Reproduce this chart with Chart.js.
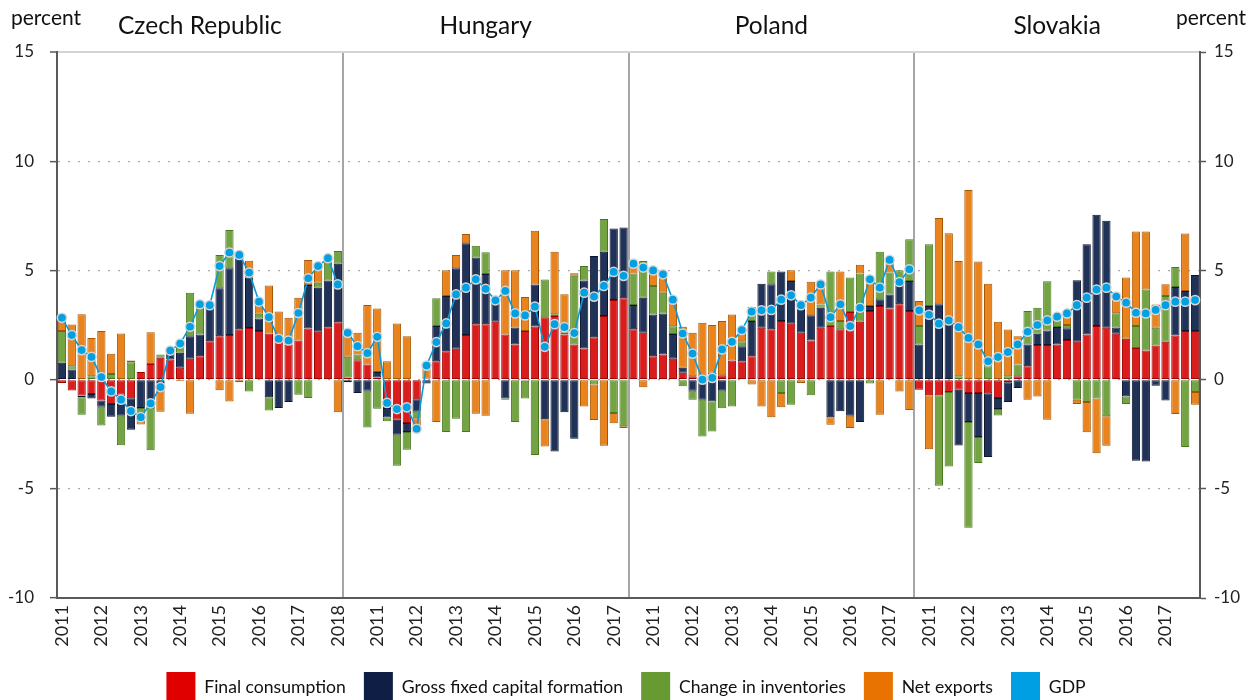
<!DOCTYPE html>
<html>
<head>
<meta charset="utf-8">
<title>Contributions to GDP growth</title>
<script src="https://cdn.jsdelivr.net/npm/chart.js@4.4.0/dist/chart.umd.min.js"></script>
<style>
    html, body { margin: 0; padding: 0; background: #fff; overflow: hidden; }
    #wrap { width: 1252px; height: 712px; }
</style>
</head>
<body>
<div id="wrap"><canvas id="growthChart" width="1252" height="712"></canvas></div>
<script>
// countries and years (each country: 2011Q1 - 2018Q1)
const countries = ['Czech Republic', 'Hungary', 'Poland', 'Slovakia'];
const years = ['2011', '2012', '2013', '2014', '2015', '2016', '2017', '2018'];
const quartersPerCountry = 29;

// Czech Republic
const fcCZ = [-0.15, -0.50, -0.73, -0.66, -0.96, -1.12, -0.69, -0.85, 0.35, 0.72, 1.00, 0.92, 0.54, 0.96, 1.07, 1.76, 1.99, 2.04, 2.30, 2.36, 2.22, 2.11, 1.82, 1.61, 1.79, 2.34, 2.19, 2.40, 2.63];
const gfcfCZ = [0.77, 0.46, -0.08, -0.21, -0.28, -0.58, -0.96, -1.45, -1.30, -1.30, -0.15, 0.41, 0.69, 1.03, 1.00, 1.60, 2.19, 3.06, 3.50, 2.31, 0.58, -0.81, -1.30, -1.03, 0.00, 1.99, 2.02, 2.14, 2.68];
const invCZ = [1.45, 0.15, -0.80, 0.15, -0.86, 0.26, -1.36, 0.80, -0.58, -1.93, 0.15, 0.00, 0.50, 1.99, 1.40, 0.00, 1.53, 1.75, 0.00, -0.54, 0.21, -0.61, 0.20, 0.00, -0.69, -0.84, 0.23, 1.01, 0.58];
const nxCZ = [0.78, 1.91, 2.99, 1.76, 2.22, 0.92, 2.11, 0.08, -0.18, 1.45, -1.32, 0.00, -0.08, -1.56, 0.00, 0.00, -0.49, -1.00, -0.12, 0.77, 0.58, 2.20, 1.10, 1.22, 1.96, 1.15, 0.76, 0.00, -1.49];
const gdpCZ = [2.83, 2.04, 1.35, 1.04, 0.12, -0.54, -0.92, -1.44, -1.72, -1.09, -0.34, 1.33, 1.65, 2.42, 3.45, 3.41, 5.20, 5.82, 5.71, 4.90, 3.57, 2.86, 1.87, 1.79, 3.05, 4.64, 5.20, 5.56, 4.36];

// Hungary
const fcHU = [0.10, 0.89, 0.69, 0.10, -1.30, -1.84, -1.99, -0.90, 0.05, 0.84, 1.30, 1.41, 2.04, 2.53, 2.53, 2.65, 2.07, 1.61, 2.22, 2.43, 2.86, 2.91, 2.07, 1.61, 1.42, 1.94, 2.91, 3.64, 3.72];
const gfcfHU = [-0.12, -0.61, -0.51, 0.25, -0.43, -0.69, -0.41, -0.57, -0.18, 1.61, 2.53, 3.69, 4.20, 3.06, 2.30, 0.95, -0.87, 0.77, -0.05, 1.93, -1.82, -3.29, -1.49, -2.71, 3.12, 3.72, 2.94, 3.28, 3.25];
const invHU = [0.95, 0.26, -1.68, -1.33, -0.18, -1.41, -0.81, -0.30, 0.00, 1.27, -2.40, -1.79, -2.40, 0.54, 1.00, 0.00, -0.05, -1.94, -0.81, -3.45, 1.72, 0.08, 0.08, 3.14, 0.66, -0.23, 1.50, -1.53, -2.14];
const nxHU = [1.20, 1.00, 2.73, 2.91, 0.84, 2.57, 1.99, -0.44, 0.77, -1.94, 1.18, 0.61, 0.43, -1.56, -1.65, 0.00, 2.94, 2.63, 1.56, 2.45, -1.24, 2.86, 1.76, 0.12, -1.23, -1.62, -3.03, -0.47, -0.08];
const gdpHU = [2.14, 1.53, 1.21, 1.96, -1.07, -1.35, -1.27, -2.25, 0.64, 1.72, 2.57, 3.90, 4.21, 4.59, 4.15, 3.63, 4.06, 3.03, 2.94, 3.34, 1.50, 2.54, 2.40, 2.13, 3.98, 3.80, 4.29, 4.93, 4.75];

// Poland
const fcPL = [2.30, 2.14, 1.07, 1.15, 0.96, 0.31, 0.15, 0.00, 0.31, 0.20, 0.87, 0.84, 1.07, 2.37, 2.30, 2.68, 2.56, 2.14, 1.79, 2.37, 2.45, 2.30, 3.09, 2.65, 3.14, 3.37, 3.26, 3.45, 3.14];
const gfcfPL = [1.12, 1.61, 1.91, 1.88, 1.13, 0.23, -0.51, -0.92, -1.00, -0.51, 0.00, 0.69, 1.61, 2.02, 2.07, 2.27, 1.96, 1.40, 1.16, 0.92, -1.72, -1.45, -1.65, -1.94, 0.23, 0.31, 0.64, 1.07, 1.38];
const invPL = [1.44, 1.68, 1.30, 0.95, 0.35, -0.31, -0.41, -1.68, -1.38, -0.80, -1.23, 0.23, 0.64, 0.00, 0.58, -0.61, -1.15, 0.00, -0.72, 0.15, 2.50, 0.38, 1.58, 2.21, -0.18, 2.17, 1.00, 0.49, 1.91];
const nxPL = [0.46, -0.35, 0.77, 0.84, 1.22, 1.88, 1.99, 2.60, 2.19, 2.48, 2.11, 0.54, -0.23, -1.23, -1.72, -0.66, 0.49, -0.15, 1.53, 0.92, -0.35, 2.27, -0.57, 0.40, 1.38, -1.61, 0.50, -0.54, -1.39];
const gdpPL = [5.31, 5.13, 5.00, 4.82, 3.66, 2.11, 1.19, 0.00, 0.08, 1.38, 1.73, 2.27, 3.11, 3.17, 3.19, 3.66, 3.86, 3.41, 3.75, 4.36, 2.86, 3.45, 2.45, 3.29, 4.59, 4.21, 5.48, 4.47, 5.05];

// Slovakia
const fcSK = [-0.46, -0.72, -0.72, -0.57, -0.46, -0.61, -0.61, -0.63, -0.84, -0.12, 0.15, 0.61, 1.58, 1.58, 1.61, 1.81, 1.73, 2.07, 2.45, 2.37, 2.10, 1.87, 1.45, 1.33, 1.56, 1.73, 2.02, 2.22, 2.22];
const gfcfSK = [1.61, 3.37, 3.45, 2.60, -2.56, -1.33, -2.02, -2.91, -0.51, -0.90, -0.38, 1.00, 0.52, 0.67, 0.80, 0.54, 2.82, 4.13, 5.10, 4.90, 0.28, -0.77, -3.72, -3.75, -0.28, -0.96, 2.22, 1.84, 2.57];
const invSK = [0.84, 2.83, -4.14, -3.41, 0.15, -4.84, -1.19, 0.61, -0.29, 0.15, 0.54, 1.53, 1.19, 2.25, 0.45, 0.15, -0.92, -1.03, -0.87, -1.68, 0.66, -0.35, 1.00, 2.80, 0.81, 2.10, 0.92, -3.09, -0.57];
const nxSK = [1.15, -2.47, 3.95, 4.10, 5.28, 8.68, 5.41, 3.78, 2.65, 2.14, 1.30, -0.92, -0.77, -1.84, 0.00, 0.49, -0.20, -1.38, -2.50, -1.35, 0.72, 2.80, 4.33, 2.65, 1.07, 0.54, -1.58, 2.63, -0.58];
const gdpSK = [3.17, 2.97, 2.56, 2.71, 2.40, 1.91, 1.61, 0.84, 1.03, 1.26, 1.61, 2.19, 2.50, 2.71, 2.88, 3.03, 3.41, 3.75, 4.12, 4.21, 3.80, 3.52, 3.06, 3.03, 3.19, 3.41, 3.57, 3.57, 3.64];

const finalConsumption = fcCZ.concat(fcHU, fcPL, fcSK);
const grossFixedCapital = gfcfCZ.concat(gfcfHU, gfcfPL, gfcfSK);
const inventories = invCZ.concat(invHU, invPL, invSK);
const netExports = nxCZ.concat(nxHU, nxPL, nxSK);
const gdp = gdpCZ.concat(gdpHU, gdpPL, gdpSK);

// one category per quarter; the axis prints the year of every 4th category
var categories = [];
var categoryYears = [];
countries.forEach(function (country) {
    for (var q = 0; q < quartersPerCountry; q++) {
        var year = years[Math.floor(q / 4)];
        categories.push(country + ' ' + year + 'Q' + (q % 4 + 1));
        categoryYears.push(year);
    }
});

var legendColors = ['#E00000', '#0E1E45', '#679A32', '#E87300', '#009FE3'];

// "percent" unit labels and country names above the plot
var headerText = {
    id: 'headerText',
    afterDraw: function (chart) {
        var ctx = chart.ctx;
        var xs = chart.scales.x;
        ctx.save();
        ctx.fillStyle = '#111';
        ctx.textBaseline = 'middle';
        ctx.font = '21px Lato, "Open Sans", sans-serif';
        ctx.textAlign = 'left';
        ctx.fillText('percent', 11, 18);
        ctx.textAlign = 'right';
        ctx.fillText('percent', 1246, 18);
        ctx.font = '24.5px Lato, "Open Sans", sans-serif';
        ctx.textAlign = 'center';
        countries.forEach(function (country, c) {
            var first = xs.getPixelForValue(c * quartersPerCountry);
            var last = xs.getPixelForValue(c * quartersPerCountry + quartersPerCountry - 1);
            ctx.fillText(country, (first + last) / 2, 26);
        });
        ctx.restore();
    }
};

function barSet(label, data, fill, border) {
    return {
        type: 'bar',
        label: label,
        data: data,
        backgroundColor: fill,
        borderColor: border,
        borderWidth: 1,
        borderSkipped: false,
        barPercentage: 0.84,
        categoryPercentage: 1,
        stack: 'parts',
        order: 1
    };
}

Chart.defaults.font.family = 'Lato, "Open Sans", sans-serif';
Chart.defaults.color = '#222';

var ctx = document.getElementById('growthChart');
new Chart(ctx, {
    type: 'bar',
    data: {
        labels: categories,
        datasets: [
            barSet('Final consumption', finalConsumption, '#DA1C1C', '#9E0000'),
            barSet('Gross fixed capital formation', grossFixedCapital, '#203258', '#0A1530'),
            barSet('Change in inventories', inventories, '#73A342', '#4A7820'),
            barSet('Net exports', netExports, '#E9831E', '#A45600'),
            {
                type: 'line',
                label: 'GDP',
                data: gdp,
                borderColor: '#0B9AD8',
                backgroundColor: '#00A0E2',
                borderWidth: 1.6,
                pointRadius: 4.6,
                pointBackgroundColor: '#00A0E2',
                pointBorderColor: '#D6D6D6',
                pointBorderWidth: 1.5,
                tension: 0,
                stack: 'gdp',
                order: 0,
                segment: {
                    // no line between two countries
                    borderColor: function (s) {
                        return s.p1DataIndex % quartersPerCountry === 0 ? 'rgba(0,0,0,0)' : '#0B9AD8';
                    }
                }
            }
        ]
    },
    options: {
        responsive: false,
        animation: false,
        layout: {
            padding: { top: 52, left: 0, right: 0, bottom: 0 }
        },
        plugins: {
            tooltip: { enabled: false },
            legend: {
                position: 'bottom',
                labels: {
                    boxWidth: 29,
                    boxHeight: 30,
                    padding: 18,
                    color: '#111',
                    font: { size: 17.6 },
                    sort: function (a, b) { return a.datasetIndex - b.datasetIndex; },
                    generateLabels: function (chart) {
                        var items = Chart.defaults.plugins.legend.labels.generateLabels(chart);
                        items.forEach(function (item) {
                            item.fillStyle = legendColors[item.datasetIndex];
                            item.strokeStyle = legendColors[item.datasetIndex];
                            item.lineWidth = 0;
                        });
                        return items;
                    }
                }
            }
        },
        scales: {
            x: {
                stacked: true,
                grid: {
                    offset: true,
                    drawTicks: false,
                    lineWidth: 2,
                    color: function (c) {
                        return (c.index === 29 || c.index === 58 || c.index === 87) ? '#A6A6A6' : 'rgba(0,0,0,0)';
                    }
                },
                border: { color: '#595959', width: 2 },
                ticks: {
                    autoSkip: false,
                    minRotation: 90,
                    maxRotation: 90,
                    padding: 7,
                    font: { size: 18 },
                    callback: function (value, index) {
                        return index % 4 === 0 ? categoryYears[index] : '';
                    }
                },
                afterFit: function (s) { s.height = 56; }
            },
            y: {
                stacked: true,
                position: 'left',
                min: -10,
                max: 15,
                ticks: { stepSize: 5, padding: 16, font: { size: 17 } },
                grid: {
                    tickLength: 7,
                    tickColor: '#595959',
                    tickWidth: 1.5,
                    color: function (c) {
                        if (c.tick.value === 15) return '#D4D4D4';
                        if (c.tick.value === -10) return 'rgba(0,0,0,0)';
                        return '#A9A9A9';
                    },
                    lineWidth: function (c) {
                        return c.tick.value === 15 ? 2 : 1.3;
                    }
                },
                border: {
                    color: '#595959',
                    width: 2,
                    dash: function (c) {
                        return (c.tick && c.tick.value !== 15) ? [2, 8] : [];
                    }
                },
                afterFit: function (s) { s.width = 57; }
            },
            y2: {
                position: 'right',
                min: -10,
                max: 15,
                ticks: { stepSize: 5, padding: 8, font: { size: 17 } },
                grid: {
                    drawOnChartArea: false,
                    tickLength: 6,
                    tickColor: '#595959',
                    tickWidth: 1.5
                },
                border: { color: '#595959', width: 2 },
                afterFit: function (s) { s.width = 52; }
            }
        }
    },
    plugins: [headerText]
});
</script>
</body>
</html>
